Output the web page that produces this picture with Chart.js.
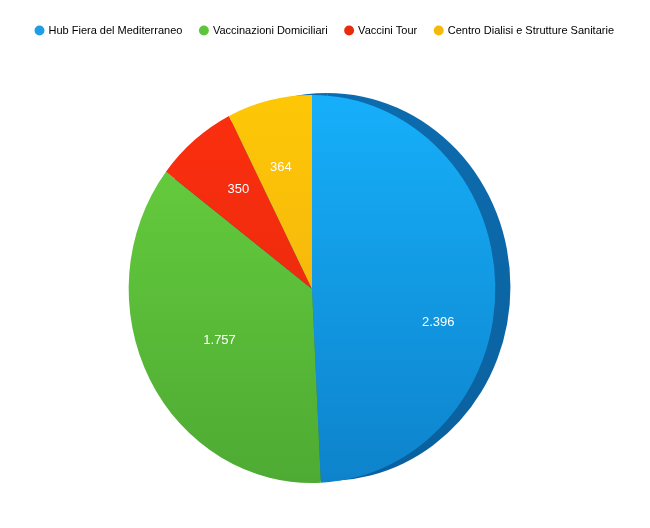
<!DOCTYPE html>
<html>
<head>
<meta charset="utf-8">
<script src="https://cdn.jsdelivr.net/npm/chart.js@4"></script>
<style>
  html, body { margin: 0; padding: 0; background: #fff; }
  #wrap { width: 650px; height: 528px; }
</style>
</head>
<body>
<div id="wrap"><canvas id="pieChart"></canvas></div>
<script>
const categories = ['Hub Fiera del Mediterraneo', 'Vaccinazioni Domiciliari', 'Vaccini Tour', 'Centro Dialisi e Strutture Sanitarie'];
const values = [2396, 1757, 350, 364];
const valueLabels = ['2.396', '1.757', '350', '364'];

const flatColors = ['#1c9fe8', '#5cc63a', '#ea2a0c', '#f5b80c'];
const topColors = ['#18b4ff', '#6cd640', '#ff3010', '#ffcb05'];
const bottomColors = ['#0c7ec6', '#4ba632', '#de260a', '#eea612'];

// pie is shifted left a little and squeezed to look like the tilted disc
const SHIFT_X = -13;
const SQUEEZE = 0.945;

function sliceGradient(c) {
  const chart = c.chart;
  const area = chart.chartArea;
  if (!area) return flatColors[c.dataIndex];
  const g = chart.ctx.createLinearGradient(0, area.top, 0, area.bottom);
  g.addColorStop(0, topColors[c.dataIndex]);
  g.addColorStop(1, bottomColors[c.dataIndex]);
  return g;
}

const discPlugin = {
  id: 'disc',
  beforeDatasetsDraw(chart) {
    const ctx = chart.ctx;
    const meta = chart.getDatasetMeta(0);
    const cx = meta.data[0].x;
    ctx.save();
    ctx.translate(cx + SHIFT_X, 0);
    ctx.scale(SQUEEZE, 1);
    ctx.translate(-cx, 0);
    // dark side band (fake 3D edge)
    const edge = ctx.createLinearGradient(0, chart.chartArea.top, 0, chart.chartArea.bottom);
    edge.addColorStop(0, '#0d6db0');
    edge.addColorStop(1, '#0a5f9c');
    ctx.fillStyle = edge;
    meta.data.forEach(arc => {
      const p = arc.getProps(['x', 'y', 'startAngle', 'endAngle', 'outerRadius'], true);
      ctx.beginPath();
      ctx.moveTo(p.x + 16, p.y - 2);
      ctx.arc(p.x + 16, p.y - 2, p.outerRadius, p.startAngle, p.endAngle);
      ctx.closePath();
      ctx.fill();
    });
  },
  afterDatasetsDraw(chart) {
    const ctx = chart.ctx;
    ctx.restore();
    const meta = chart.getDatasetMeta(0);
    ctx.save();
    ctx.fillStyle = '#ffffff';
    ctx.font = '13px "Liberation Sans", Arial, sans-serif';
    ctx.textAlign = 'center';
    ctx.textBaseline = 'middle';
    const factors = [0.71, 0.57, 0.65, 0.65];
    const tilt = [0.27, 0, 0.03, -0.03];
    meta.data.forEach((arc, i) => {
      const p = arc.getProps(['x', 'y', 'startAngle', 'endAngle', 'outerRadius'], true);
      const mid = (p.startAngle + p.endAngle) / 2 + tilt[i];
      const r = p.outerRadius * factors[i];
      const x = p.x + SHIFT_X + Math.cos(mid) * r * SQUEEZE;
      ctx.fillText(valueLabels[i], x, p.y + Math.sin(mid) * r);
    });
    ctx.restore();
  }
};

const legendGap = {
  id: 'legendGap',
  beforeInit(chart) {
    const fit = chart.legend.fit;
    chart.legend.fit = function () {
      fit.bind(chart.legend)();
      this.height += 6;
    };
  }
};

const ctx = document.getElementById('pieChart').getContext('2d');

const chart = new Chart(ctx, {
  type: 'pie',
  data: {
    labels: categories,
    datasets: [{
      data: values,
      backgroundColor: sliceGradient,
      borderWidth: 0
    }]
  },
  options: {
    responsive: true,
    maintainAspectRatio: false,
    animation: false,
    radius: 194,
    layout: {
      padding: { top: 7, left: 0, right: 0, bottom: 2 }
    },
    plugins: {
      tooltip: { enabled: false },
      legend: {
        position: 'top',
        labels: {
          usePointStyle: true,
          pointStyle: 'circle',
          boxWidth: 7,
          boxHeight: 7,
          padding: 18,
          color: '#333333',
          font: { size: 11, family: '"Liberation Sans", Arial, sans-serif' },
          generateLabels(chart) {
            return categories.map((c, i) => ({
              text: c,
              fillStyle: flatColors[i],
              strokeStyle: flatColors[i],
              lineWidth: 0,
              pointStyle: 'circle',
              index: i,
              hidden: false
            }));
          }
        }
      }
    }
  },
  plugins: [legendGap, discPlugin]
});
</script>
</body>
</html>
